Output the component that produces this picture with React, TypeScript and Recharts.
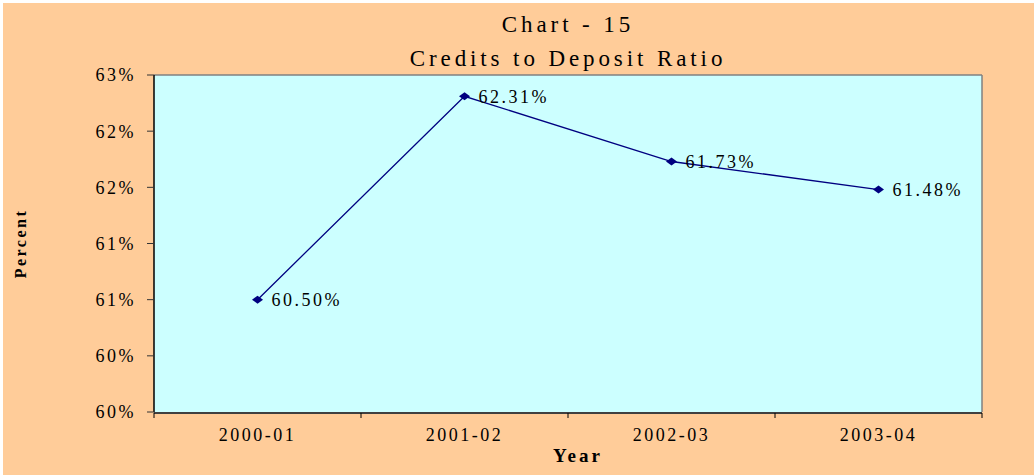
import { LineChart, Line, XAxis, YAxis, CartesianGrid, LabelList } from "recharts";

const years = ["2000-01", "2001-02", "2002-03", "2003-04"];
const ratios = [60.5, 62.31, 61.73, 61.48];
const yTicks = [59.5, 60, 60.5, 61, 61.5, 62, 62.5];

const data = years.map((year, i) => ({ year, slot: i, ratio: ratios[i] }));
// tick marks go between the categories, Excel style
const boundaries = [0, ...years.map((_, i) => i + 1)];

const NAVY = "#000080";
const SERIF = '"Liberation Serif", "Times New Roman", serif';

function Diamond(props: any) {
  const { cx, cy } = props;
  if (cx == null || cy == null) return null;
  return <path d={`M${cx},${cy - 4} L${cx + 5.5},${cy} L${cx},${cy + 4} L${cx - 5.5},${cy} Z`} fill={NAVY} />;
}

export default function App() {
  return (
    <div style={{ position: "absolute", left: 0, top: 0, width: 1034, height: 475, background: "#fff", fontFamily: SERIF }}>
      <div style={{ position: "absolute", left: 3, top: 3, width: 1031, height: 472, background: "#FFCC99" }}>
        <LineChart width={1031} height={472} data={data} margin={{ top: 71, right: 51, bottom: 61, left: 0 }}>
          <CartesianGrid xAxisId="cat" horizontal={false} vertical={false} fill="#CCFFFF" stroke="none" />
          {/* category labels sit in the first slot, boundary ticks right under it */}
          <XAxis
            xAxisId="cat"
            dataKey="year"
            scale="band"
            height={1}
            tickSize={0}
            tickMargin={16}
            axisLine={false}
            tickLine={false}
            tick={{ fill: "#000", fontSize: 18, letterSpacing: 2.5 }}
          />
          <XAxis
            xAxisId="edge"
            dataKey="slot"
            type="number"
            domain={[0, years.length]}
            allowDataOverflow
            ticks={boundaries}
            tickFormatter={() => ""}
            height={1}
            tickSize={5}
            axisLine={{ stroke: "#404040", strokeWidth: 2 }}
            tickLine={{ stroke: "#000" }}
          />
          <XAxis
            xAxisId="top"
            orientation="top"
            dataKey="slot"
            type="number"
            domain={[0, years.length]}
            allowDataOverflow
            height={1}
            tick={false}
            tickLine={false}
            axisLine={{ stroke: "#808080", strokeWidth: 1.5 }}
          />
          <YAxis
            domain={[59.5, 62.5]}
            ticks={yTicks}
            width={151}
            tickSize={7}
            tickMargin={11}
            tickFormatter={(v: number) => `${Math.round(v)}%`}
            tick={{ fill: "#000", fontSize: 18, letterSpacing: 2.5 }}
            axisLine={{ stroke: "#000", strokeWidth: 1.5 }}
            tickLine={{ stroke: "#333" }}
            label={{
              content: (p: any) => {
                const vb = p.viewBox;
                const cy = vb.y + vb.height / 2;
                return (
                  <text x={23} y={cy} transform={`rotate(-90, 23, ${cy})`} textAnchor="middle" fontWeight="bold" fontSize={16} letterSpacing={2.5} fill="#000">
                    Percent
                  </text>
                );
              },
            }}
          />
          <YAxis
            yAxisId="right"
            orientation="right"
            domain={[59.5, 62.5]}
            width={1}
            tick={false}
            tickLine={false}
            axisLine={{ stroke: "#808080", strokeWidth: 1.5 }}
          />
          <Line
            xAxisId="cat"
            dataKey="ratio"
            stroke={NAVY}
            strokeWidth={1.3}
            dot={<Diamond />}
            activeDot={false}
            isAnimationActive={false}
          >
            <LabelList
              dataKey="ratio"
              position="right"
              offset={14}
              fill="#000"
              fontSize={18}
              letterSpacing={2.5}
              formatter={(v: any) => `${Number(v).toFixed(2)}%`}
            />
          </Line>
        </LineChart>
      </div>
      <div style={{ position: "absolute", left: 154, top: 8, width: 828, textAlign: "center", fontSize: 23, lineHeight: "34px", letterSpacing: 3.9, color: "#000" }}>
        <div>Chart - 15</div>
        <div>Credits to Deposit Ratio</div>
      </div>
      <div style={{ position: "absolute", left: 164, top: 446, width: 828, textAlign: "center", fontSize: 19, fontWeight: "bold", lineHeight: "20px", letterSpacing: 3, color: "#000" }}>
        Year
      </div>
    </div>
  );
}
